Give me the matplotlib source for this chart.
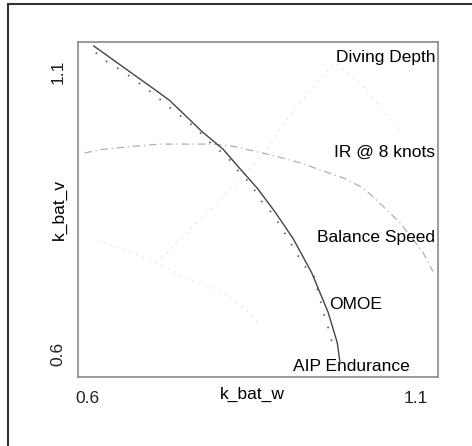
import matplotlib.pyplot as plt
from matplotlib.patches import Rectangle

plt.rcParams['font.family'] = ['Liberation Sans', 'DejaVu Sans']

# OMOE frontier (solid)
omoe_w = [0.609, 0.669, 0.698, 0.725, 0.751, 0.774, 0.806, 0.829, 0.858, 0.885, 0.913, 0.941, 0.966, 0.980, 0.984]
omoe_v = [1.146, 1.096, 1.072, 1.049, 1.020, 0.994, 0.963, 0.932, 0.894, 0.852, 0.804, 0.744, 0.674, 0.620, 0.586]

# AIP endurance (dark dots)
aip_w = [0.612, 0.629, 0.645, 0.659, 0.674, 0.688, 0.705, 0.717, 0.733, 0.747, 0.762, 0.787, 0.801,
         0.816, 0.832, 0.847, 0.865, 0.883, 0.900, 0.916, 0.928, 0.944, 0.954, 0.961, 0.969, 0.974]
aip_v = [1.134, 1.118, 1.107, 1.096, 1.084, 1.071, 1.057, 1.043, 1.030, 1.016, 1.003, 0.974, 0.960,
         0.944, 0.920, 0.903, 0.870, 0.846, 0.814, 0.783, 0.758, 0.740, 0.696, 0.663, 0.637, 0.607]

# IR @ 8 knots (dash-dot)
ir_w = [0.595, 0.618, 0.669, 0.710, 0.750, 0.791, 0.822, 0.852, 0.888, 0.923, 0.954, 0.989, 1.020, 1.045, 1.076, 1.096, 1.111, 1.126]
ir_v = [0.956, 0.962, 0.968, 0.972, 0.972, 0.972, 0.968, 0.960, 0.950, 0.939, 0.926, 0.912, 0.894, 0.867, 0.832, 0.802, 0.779, 0.746]

# Diving depth (faint)
dd_w = [0.705, 0.748, 0.786, 0.832, 0.870, 0.908, 0.946, 0.977, 1.015, 1.045, 1.076]
dd_v = [0.761, 0.811, 0.855, 0.909, 0.958, 1.024, 1.077, 1.116, 1.080, 1.036, 0.994]

# Balance speed (faint)
bs_w = [0.614, 0.660, 0.705, 0.755, 0.801, 0.842, 0.858]
bs_v = [0.802, 0.782, 0.761, 0.731, 0.713, 0.678, 0.657]

labels = ['Diving Depth', 'IR @ 8 knots', 'Balance Speed', 'OMOE', 'AIP Endurance']

fs = 12.5

fig = plt.figure(figsize=(4.72, 4.46), dpi=100)
fig.patches.append(Rectangle((8 / 472, -0.05), 1.2, 1.05 - 4 / 446, transform=fig.transFigure,
                             fill=False, edgecolor='#333333', linewidth=1.5))
ax = fig.add_axes([78 / 472, 1 - 377 / 446, 360 / 472, 335 / 446])

ax.plot(dd_w, dd_v, color='#e0e0e0', lw=1.0, ls=(0, (1, 4)))
ax.plot(bs_w, bs_v, color='#e0e0e0', lw=1.0, ls=(0, (1, 4)))
ax.plot(ir_w, ir_v, color='#b0b0b0', lw=0.9, ls=(0, (6, 3, 1, 3)))
ax.plot(aip_w, aip_v, color='#555555', lw=1.3, ls=(0, (0.8, 6.5)))
ax.plot(omoe_w, omoe_v, color='#444444', lw=1.0)

ax.set_xlim(0.585, 1.1335)
ax.set_ylim(0.559, 1.153)
ax.set_xticks([0.6, 1.1])
ax.set_yticks([0.6, 1.1])
ax.set_xticklabels(['0.6', '1.1'])
ax.set_yticklabels(['0.6', '1.1'])
ax.tick_params(length=0, labelsize=fs, colors='#222222')
ax.tick_params(axis='x', pad=10)
ax.tick_params(axis='y', pad=9, labelrotation=90)
for lbl in ax.get_yticklabels():
    lbl.set_va('center')

ax.set_xlabel('k_bat_w', fontsize=fs)
ax.xaxis.set_label_coords(0.483, -0.03)
ax.set_ylabel('k_bat_v', fontsize=fs)
ax.yaxis.set_label_coords(-0.03, 0.5)

for s in ax.spines.values():
    s.set_color('#8a8a8a')
    s.set_linewidth(1.2)

# curve names along the right side
ax.text(0.993, 0.955, labels[0], transform=ax.transAxes, ha='right', va='center', fontsize=fs)
ax.text(0.993, 0.672, labels[1], transform=ax.transAxes, ha='right', va='center', fontsize=fs)
ax.text(0.993, 0.415, labels[2], transform=ax.transAxes, ha='right', va='center', fontsize=fs)
ax.text(0.697, 0.215, labels[3], transform=ax.transAxes, ha='left', va='center', fontsize=fs)
ax.text(0.597, 0.03, labels[4], transform=ax.transAxes, ha='left', va='center', fontsize=fs)

fig.savefig('out.png', dpi=100)
